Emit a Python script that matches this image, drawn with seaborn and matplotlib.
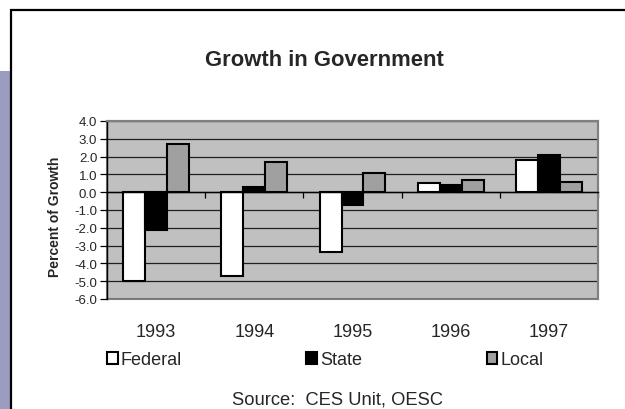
import matplotlib
matplotlib.use("Agg")
import matplotlib.pyplot as plt
from matplotlib.patches import Rectangle
import seaborn as sns
import pandas as pd

# --- Data ---
years = ["1993", "1994", "1995", "1996", "1997"]
federal = [-5.0, -4.7, -3.35, 0.5, 1.8]
state = [-2.1, 0.3, -0.7, 0.4, 2.1]
local = [2.7, 1.7, 1.1, 0.7, 0.6]
series = ["Federal", "State", "Local"]
y_ticks = [-6.0, -5.0, -4.0, -3.0, -2.0, -1.0, 0.0, 1.0, 2.0, 3.0, 4.0]

# long table for seaborn
df = pd.DataFrame({
    "Year": years * 3,
    "Series": ["Federal"] * 5 + ["State"] * 5 + ["Local"] * 5,
    "Growth": federal + state + local,
})

sns.set_theme(style="white")
plt.rcParams["font.family"] = ["Liberation Sans", "DejaVu Sans"]

W, H = 625, 410
fig = plt.figure(figsize=(W / 100, H / 100), dpi=100)
fig.patch.set_facecolor("white")

# outer frame + side strip
fig.add_artist(Rectangle((0, 0), 10 / W, (H - 72) / H, transform=fig.transFigure,
                         facecolor="#9C9CC0", edgecolor="none"))
fig.add_artist(Rectangle((11 / W, -0.1), 1.2, 1.1 - 11 / H, transform=fig.transFigure,
                         fill=False, edgecolor="black", linewidth=1.6))

ax = fig.add_axes([107 / W, 1 - 300 / H, (598 - 107) / W, (300 - 122) / H])
ax.set_facecolor("#C0C0C0")

palette = {"Federal": "white", "State": "black", "Local": "#A0A0A0"}
sns.barplot(data=df, x="Year", y="Growth", hue="Series", hue_order=series,
            palette=palette, width=0.67, gap=0, edgecolor="black", linewidth=1.5,
            saturation=1, legend=True, ax=ax)
handles, labels = ax.get_legend_handles_labels()
ax.get_legend().remove()

ax.set_ylim(-6, 4)
ax.set_xlim(-0.5, len(years) - 0.5)
ax.set_yticks(y_ticks)
ax.set_yticklabels([f"{v:.1f}" for v in y_ticks], fontsize=9.5)
ax.yaxis.grid(True, color="#202020", linewidth=0.9)
ax.set_axisbelow(True)

# x axis line at zero, labels pushed below the plot area
ax.spines["bottom"].set_position(("data", 0))
ax.spines["bottom"].set_color("black")
ax.spines["bottom"].set_linewidth(1.0)
ax.set_xticks(range(len(years)))
ax.set_xticks([i + 0.5 for i in range(len(years))], minor=True)
ax.tick_params(axis="x", which="major", length=0, pad=94, labelsize=13)
ax.tick_params(axis="x", which="minor", bottom=True, direction="out", length=4, width=0.9, color="black")
ax.tick_params(axis="y", left=True, direction="out", length=5, width=0.9, color="black", pad=2)
ax.set_xlabel("")

for s in ["top", "right"]:
    ax.spines[s].set_color("#808080")
    ax.spines[s].set_linewidth(1.5)
ax.spines["left"].set_color("black")
ax.spines["left"].set_linewidth(1.0)
ax.patch.set_edgecolor("#808080")
ax.patch.set_linewidth(1.5)

ax.set_ylabel("Percent of Growth", fontsize=10, fontweight="bold")
ax.yaxis.set_label_coords(-0.092, 0.47)

fig.text(324 / W, 1 - 61 / H, "Growth in Government", ha="center", va="center",
         fontsize=15.8, fontweight="bold")

fig.legend(handles, labels, loc="center left", bbox_to_anchor=(107 / W, 1 - 361 / H),
           ncol=3, frameon=False, fontsize=13, handlelength=0.6, handleheight=0.65,
           handletextpad=0.15, columnspacing=6.9, borderpad=0, borderaxespad=0)

fig.text(337 / W, 1 - 405 / H, "Source:  CES Unit, OESC", ha="center", va="baseline",
         fontsize=13.2)

fig.savefig("out.png", dpi=100)
